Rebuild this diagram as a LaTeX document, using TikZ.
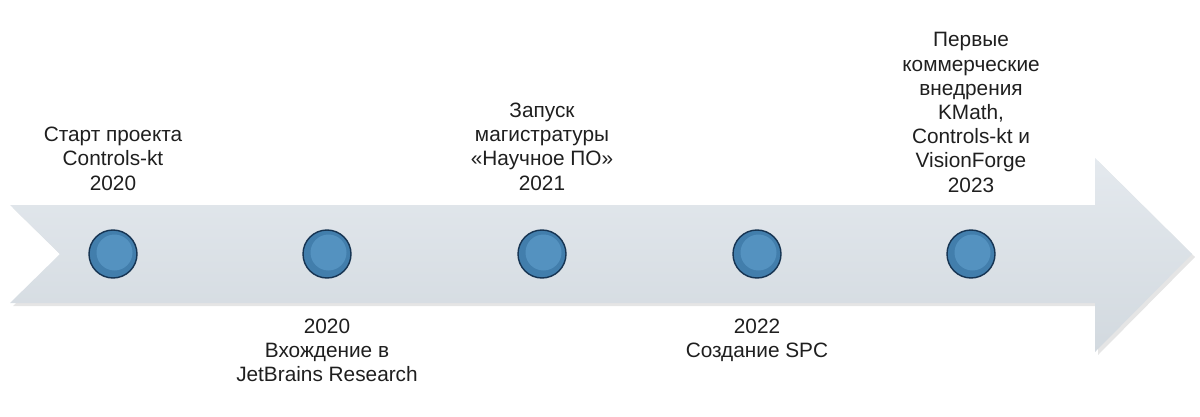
\documentclass[tikz,border=0pt]{standalone}
\usepackage{fontspec}
\setmainfont{Liberation Sans}
\usepackage{tikz}

\definecolor{dotblue}{RGB}{66,126,172}
\definecolor{dotlight}{RGB}{84,146,192}
\definecolor{dotdark}{RGB}{22,52,82}
\definecolor{bandtop}{RGB}{228,233,238}
\definecolor{bandbot}{RGB}{210,217,223}

\begin{document}
\begin{tikzpicture}[x=1pt, y=-1pt, font=\fontsize{20.8}{24.2}\selectfont]
        \tikzset{
            dot/.style = {circle, minimum size=48pt, inner sep=0, fill=dotblue, draw=dotdark, line width=1.4pt,
                path picture={\fill[dotlight] ([shift={(1.5pt,1.5pt)}]path picture bounding box.center) circle(18pt);}},
            lbl/.style = {align=center, inner sep=0, text=black!88}
        }
        \useasboundingbox (0,0) rectangle (1200,417);

        % the band
        \fill[black!10] (13,208) -- (1098,208) -- (1098,161) -- (1195,257) -- (1098,355) -- (1098,306) -- (13,306) -- (63,257) -- cycle;
        \shade[top color=bandtop, bottom color=bandbot] (10,205) -- (1095,205) -- (1095,158) -- (1192,254) -- (1095,352) -- (1095,303) -- (10,303) -- (60,254) -- cycle;

        \node[dot] (d1) at (113,254) {};
        \node[dot] (d2) at (327,254) {};
        \node[dot] (d3) at (542,254) {};
        \node[dot] (d4) at (757,254) {};
        \node[dot] (d5) at (971,254) {};

        \node[lbl, anchor=south] (t1) at (113,190.5) {Старт проекта\\Controls-kt\\2020};
        \node[lbl, anchor=north] (b2) at (327,318.5) {2020\\Вхождение в\\JetBrains Research};
        \node[lbl, anchor=south] (t3) at (542,190.5) {Запуск\\магистратуры\\«Научное ПО»\\2021};
        \node[lbl, anchor=north] (b4) at (757,318.5) {2022\\Создание SPC};
        \node[lbl, anchor=south] (t5) at (971,192.5) {Первые\\коммерческие\\внедрения\\KMath,\\Controls-kt и\\VisionForge\\2023};
    \end{tikzpicture}
\end{document}
